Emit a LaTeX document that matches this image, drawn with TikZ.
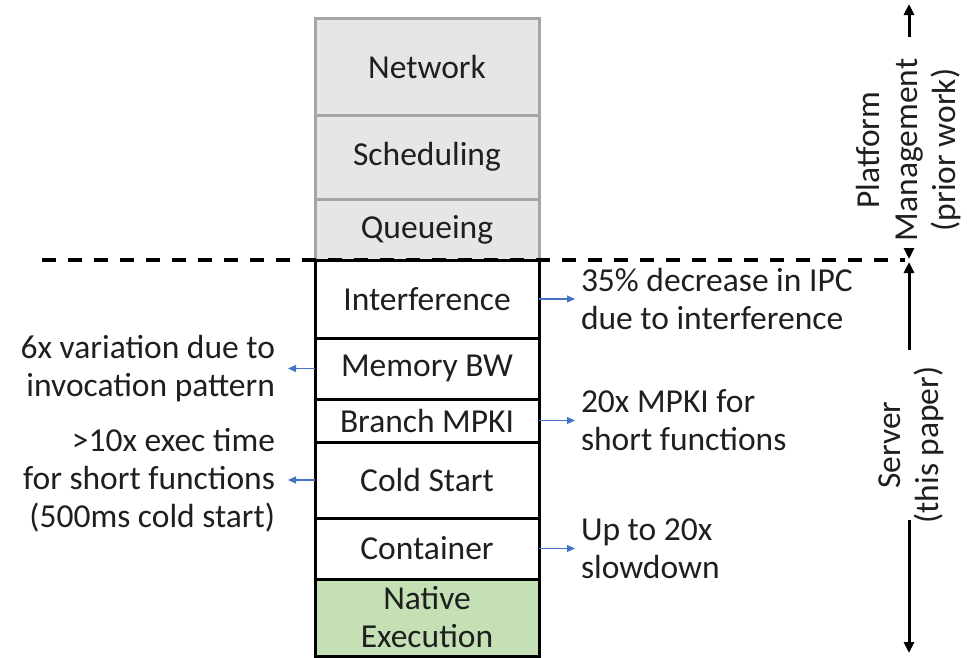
\documentclass[tikz,border=0pt]{standalone}
\usepackage{fontspec}
\setmainfont{Carlito}
\usepackage{xcolor}
\usetikzlibrary{positioning,arrows.meta}
\definecolor{layergray}{HTML}{E7E6E6}
\definecolor{layerline}{HTML}{A6A6A6}
\definecolor{nativegreen}{HTML}{C5E0B4}
\definecolor{noteblue}{HTML}{4472C4}
\begin{document}
\begin{tikzpicture}[
    x = 1pt, y = -1pt,
    every node/.style = {font=\fontsize{33.5}{38}\selectfont, inner sep=2pt, outer sep=0pt, text=black!88},
    layer/.style      = {draw, line width=3pt, minimum width=224pt, align=center},
    prior/.style      = {layer, draw=layerline, fill=layergray},
    ours/.style       = {layer, draw=black, fill=white},
    note/.style       = {align=left},
    leftnote/.style   = {align=right},
    noteline/.style   = {draw=noteblue, line width=1.1pt, -{Triangle[length=8pt,width=7pt]}},
    scopeline/.style  = {draw, line width=3pt, -{Triangle[length=11pt,width=10pt]}}
  ]
\useasboundingbox (0,0) rectangle (967,657);
% platform layers (prior work)
\node[prior, minimum height=97pt, anchor=north] (net) at (427,18) {Network};
\node[prior, minimum height=84pt, below=0pt of net] (sched) {Scheduling};
\node[prior, minimum height=61pt, below=0pt of sched] (queue) {Queueing};
% server layers (this paper)
\node[ours, minimum height=78pt, below=0pt of queue] (interf) {Interference};
\node[ours, minimum height=61pt, below=0pt of interf] (membw) {Memory BW};
\node[ours, minimum height=43pt, below=0pt of membw] (branch) {Branch MPKI};
\node[ours, minimum height=76pt, below=0pt of branch] (cold) {Cold Start};
\node[ours, minimum height=61pt, below=0pt of cold] (cont) {Container};
\node[ours, fill=nativegreen, minimum height=77pt, below=0pt of cont] (native) {Native\\Execution};
% boundary
\coordinate (dashl) at (42,260);
\coordinate (dashr) at (905,260);
\draw[line width=3.4pt, dash pattern=on 14pt off 12pt] (dashl) -- (dashr);
% findings
\node[note, right=40pt of interf] (interfnote) {35\% decrease in IPC\\due to interference};
\node[note, right=40pt of branch] (branchnote) {20x MPKI for\\short functions};
\node[note, right=40pt of cont] (contnote) {Up to 20x\\slowdown};
\node[leftnote, left=38pt of membw] (membwnote) {6x variation due to\\invocation pattern};
\node[leftnote, left=38pt of cold] (coldnote) {>10x exec time\\for short functions\\(500ms cold start)};
\draw[noteline, shorten >=4pt] (interf.east) -- (interfnote.west);
\draw[noteline, shorten >=4pt] (branch.east) -- (branchnote.west);
\draw[noteline, shorten >=4pt] (cont.east) -- (contnote.west);
\draw[noteline, shorten >=11pt] (membw.west) -- (membwnote.east);
\draw[noteline, shorten >=11pt] (cold.west) -- (coldnote.east);
% scope arrows
\node[rotate=90, align=center] (platform) at (909,150) {Platform\\Management\\(prior work)};
\node[rotate=90, align=center] (server) at (911,445) {Server\\(this paper)};
\coordinate (ptop) at (909,4);
\coordinate (ptopend) at (909,37);
\coordinate (pbot) at (909,252);
\coordinate (pbotend) at (909,259);
\coordinate (stop) at (909,262);
\coordinate (stopend) at (909,350);
\coordinate (sbot) at (909,520);
\coordinate (sbotend) at (909,653);
\draw[scopeline] (ptopend) -- (ptop);
\draw[scopeline] (pbot) -- (pbotend);
\draw[scopeline] (stopend) -- (stop);
\draw[scopeline] (sbot) -- (sbotend);
\end{tikzpicture}
\end{document}
